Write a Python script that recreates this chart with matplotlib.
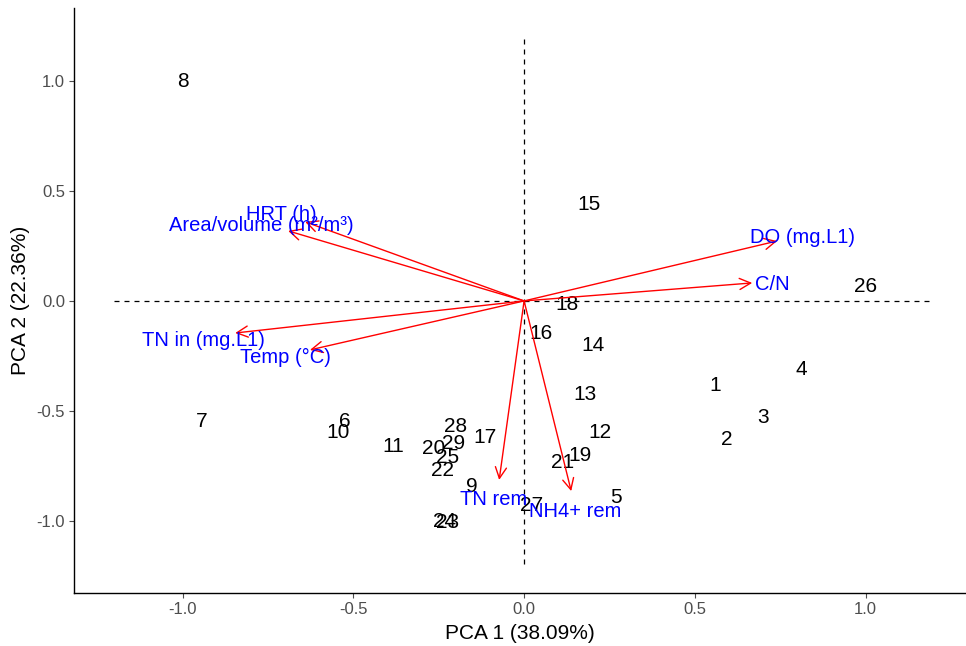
import matplotlib
matplotlib.use("Agg")
import matplotlib.pyplot as plt

plt.rcParams['font.family'] = ['Liberation Sans', 'DejaVu Sans']

# sample scores (PCA 1, PCA 2)
samples = ['1', '2', '3', '4', '5', '6', '7', '8', '9', '10', '11', '12', '13', '14',
           '15', '16', '17', '18', '19', '20', '21', '22', '23', '24', '25', '26',
           '27', '28', '29']
pc1 = [0.559, 0.594, 0.700, 0.811, 0.269, -0.524, -0.943, -1.000, -0.152, -0.545,
       -0.384, 0.223, 0.179, 0.202, 0.190, 0.050, -0.114, 0.126, 0.164, -0.266,
       0.114, -0.240, -0.225, -0.232, -0.225, 1.000, 0.023, -0.202, -0.208]
pc2 = [-0.387, -0.633, -0.533, -0.310, -0.897, -0.551, -0.551, 1.000, -0.847, -0.597,
       -0.665, -0.597, -0.428, -0.205, 0.437, -0.146, -0.624, -0.018, -0.706, -0.674,
       -0.735, -0.774, -1.011, -1.006, -0.715, 0.068, -0.932, -0.574, -0.651]

# variable loadings (arrow tips) and label positions
variables = ['HRT (h)', 'Area/volume (m²/m³)', 'TN in (mg.L1)', 'Temp (°C)',
             'DO (mg.L1)', 'C/N', 'TN rem', 'NH4+ rem']
load1 = [-0.641, -0.691, -0.846, -0.627, 0.741, 0.668, -0.073, 0.138]
load2 = [0.360, 0.319, -0.146, -0.223, 0.273, 0.082, -0.815, -0.866]
lab1 = [-0.71, -0.77, -0.94, -0.70, 0.814, 0.726, -0.088, 0.149]
lab2 = [0.395, 0.345, -0.178, -0.258, 0.287, 0.077, -0.905, -0.961]

fig = plt.figure(figsize=(9.66, 6.46), dpi=100)
ax = fig.add_axes([0.0766, 0.082, 0.9234, 0.906])

ax.plot([-1.2, 1.2], [0, 0], ls=(0, (4, 4)), color='black', lw=0.9)
ax.plot([0, 0], [-1.2, 1.2], ls=(0, (4, 4)), color='black', lw=0.9)

for s, x, y in zip(samples, pc1, pc2):
    ax.text(x, y, s, ha='center', va='center', fontsize=15, color='black')

for x, y in zip(load1, load2):
    ax.annotate('', xy=(x, y), xytext=(0, 0),
                arrowprops=dict(arrowstyle='->', color='red', lw=1,
                                shrinkA=0, shrinkB=0, mutation_scale=20))

for name, x, y in zip(variables, lab1, lab2):
    ax.text(x, y, name, ha='center', va='center', fontsize=14.5, color='blue')

ax.set_xlim(-1.318, 1.294)
ax.set_ylim(-1.33, 1.335)
ax.set_xticks([-1.0, -0.5, 0.0, 0.5, 1.0])
ax.set_yticks([-1.0, -0.5, 0.0, 0.5, 1.0])
ax.set_xticklabels(['-1.0', '-0.5', '0.0', '0.5', '1.0'])
ax.set_yticklabels(['-1.0', '-0.5', '0.0', '0.5', '1.0'])
ax.tick_params(colors='#4d4d4d', labelsize=12, length=3.5, width=0.8, pad=3)
ax.spines['top'].set_visible(False)
ax.spines['right'].set_visible(False)
for sp in ['left', 'bottom']:
    ax.spines[sp].set_color('black')
    ax.spines[sp].set_linewidth(1)

ax.set_xlabel('PCA 1 (38.09%)', fontsize=15, labelpad=5)
ax.set_ylabel('PCA 2 (22.36%)', fontsize=15, labelpad=5)

fig.savefig('out.png', dpi=100)
